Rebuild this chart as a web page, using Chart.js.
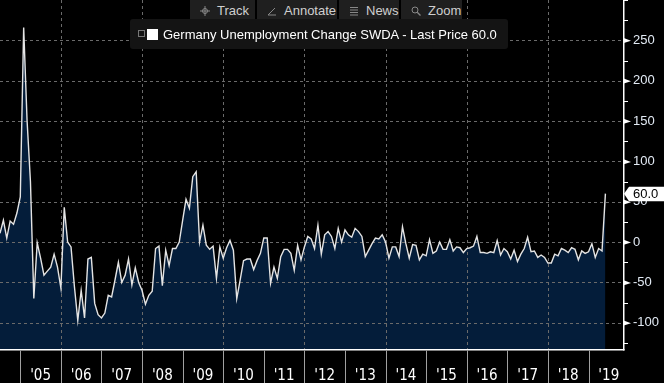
<!DOCTYPE html>
<html>
<head>
<meta charset="utf-8">
<script src="https://cdn.jsdelivr.net/npm/chart.js@4.4.1/dist/chart.umd.min.js"></script>
<style>
  html, body { margin: 0; padding: 0; background: #000; }
  #wrap { position: relative; width: 664px; height: 383px; background: #000; overflow: hidden; }
  #chart { position: absolute; left: 0; top: 0; }
  .toolbar { position: absolute; left: 190px; top: 0; height: 21px; display: flex; gap: 2px; background: #000;
    font: 13px "Liberation Sans", Arial, sans-serif; color: #cfcfcf; }
  .toolbar div { background: #1f1f1f; height: 21px; display: flex; align-items: center; padding: 0 0 0 10px; box-sizing: border-box; }
  .toolbar svg { margin-right: 7px; }
  .legend { position: absolute; left: 130px; top: 19px; width: 378px; height: 30px; background: #141414; border-radius: 3px;
    font: 13px "Liberation Sans", Arial, sans-serif; color: #fff; }
  .legend span { position: absolute; left: 33px; top: 8px; white-space: nowrap; }
  .legend i { position: absolute; left: 17px; top: 10px; width: 11px; height: 11px; background: #fff; }
  .legend b { position: absolute; left: 8px; top: 11px; width: 5px; height: 5px; border: 1px solid #777; }
</style>
</head>
<body>
<div id="wrap">
  <canvas id="chart" width="664" height="383"></canvas>
  <div class="toolbar">
    <div style="width:65px"><svg width="10" height="10" viewBox="0 0 10 10"><path d="M5 0V10M0 5H10" stroke="#888" stroke-width="1"/><circle cx="5" cy="5" r="2.5" fill="none" stroke="#888"/></svg>Track</div>
    <div style="width:80px"><svg width="10" height="10" viewBox="0 0 10 10"><path d="M1 9L8 2M1 9H9" stroke="#888" stroke-width="1"/></svg>Annotate</div>
    <div style="width:60px"><svg width="10" height="10" viewBox="0 0 10 10"><path d="M1 1.5H9M1 4H9M1 6.5H9M1 9H9" stroke="#888" stroke-width="1"/></svg>News</div>
    <div style="width:61px"><svg width="10" height="10" viewBox="0 0 10 10"><circle cx="4" cy="4" r="3" fill="none" stroke="#888"/><path d="M6.2 6.2L9.5 9.5" stroke="#888" stroke-width="1.3"/></svg>Zoom</div>
  </div>
  <div class="legend"><b></b><i></i><span>Germany Unemployment Change SWDA - Last Price 60.0</span></div>
</div>
<script>
// Germany unemployment change (SWDA), monthly, Jul 2004 .. Jun 2019, thousands
const firstYear = 2004;
const firstMonth = 7;
const changeValues = [
  11, 27, 5, 26, 22, 36,
  56, 266, 151, 75, -70, -1, -20, -41, -36, -31, -15, -31,
  -57, 43, 0, -6, -55, -97, -60, -94, -21, -19, -76, -90,
  -94, -88, -66, -68, -47, -25, -50, -41, -21, -53, -32, -50,
  -60, -77, -66, -61, -8, -5, -54, -10, -29, -8, -8, 0,
  27, 53, 42, 81, 87, 0, 21, -4, -9, -5, -45, -6,
  -20, -7, 2, -10, -70, -47, -23, -21, -21, -34, -23, -14,
  5, 5, -51, -31, -45, -18, -9, -9, -14, -35, -4, -22,
  -6, 7, 4, -8, 21, -15, 9, 13, 7, -8, 17, 0,
  15, 9, 6, 17, 13, 7, -18, -10, -2, 5, 4, 9,
  0, -20, -6, -6, -18, 19, -2, -20, -3, -4, -22, -15,
  -17, 3, -14, -11, 0, -9, -9, 3, -11, -6, -7, -13,
  -8, -7, -5, 7, -13, -13, -14, -12, -13, 2, -16, -8,
  -12, -21, -10, -24, -15, -8, 6, -12, -11, -19, -16, -19,
  -26, -26, -15, -17, -8, -10, -13, -7, -9, -22, -11, -14,
  -12, -2, -19, -8, -11, 60
];
const yearLabels = ["'05", "'06", "'07", "'08", "'09", "'10", "'11", "'12", "'13", "'14", "'15", "'16", "'17", "'18", "'19"];
const yMajorTicks = [-100, -50, 0, 50, 100, 150, 200, 250];
const yMinorTicks = [-125, -75, -25, 25, 75, 125, 175, 225, 275, 300];
const lastPrice = 60.0;

// months counted from Jan 2005 (x = 0)
const months = changeValues.map((_, i) => {
  const n = (firstYear * 12 + firstMonth - 1) + i;
  return Math.floor(n / 12) + '-' + String(n % 12 + 1).padStart(2, '0');
});
const monthIndex = months.map(m => (parseInt(m) - 2005) * 12 + parseInt(m.slice(5)) - 1);
const yearStarts = yearLabels.map((_, i) => i * 12);
const yearMids = yearLabels.map((_, i) => i * 12 + 6);

const points = changeValues.map((v, i) => ({ x: monthIndex[i], y: v }));

const NARROW = '"Liberation Sans Narrow", "DejaVu Sans Condensed", Arial, sans-serif';
const SANS = '"Liberation Sans", Arial, sans-serif';

const decorPlugin = {
  id: 'decor',
  beforeDatasetDraw(chart) {
    // dashed grid, drawn over the area fill but under the line
    const { ctx, chartArea: a, scales: { x, y } } = chart;
    ctx.save();
    ctx.strokeStyle = '#6a6a6a';
    ctx.lineWidth = 1;
    ctx.setLineDash([3, 3]);
    yMajorTicks.forEach(v => {
      const py = Math.round(y.getPixelForValue(v)) + 0.5;
      ctx.beginPath(); ctx.moveTo(a.left, py); ctx.lineTo(a.right, py); ctx.stroke();
    });
    yearStarts.forEach((v, i) => {
      if (i % 2 === 0) return;
      const px = Math.round(x.getPixelForValue(v)) + 0.5;
      ctx.beginPath(); ctx.moveTo(px, a.top); ctx.lineTo(px, a.bottom); ctx.stroke();
    });
    ctx.restore();
  },
  afterDraw(chart) {
    const { ctx, chartArea: a, scales: { x, y } } = chart;
    ctx.save();
    // axis lines
    ctx.fillStyle = '#fff';
    ctx.fillRect(a.right, 0, 1.5, a.bottom + 1.5);
    ctx.fillRect(0, a.bottom, a.right + 1.5, 1.5);
    // year separators under the plot
    ctx.fillStyle = '#a0a0a0';
    yearStarts.forEach(v => {
      const px = Math.round(x.getPixelForValue(v));
      ctx.fillRect(px, a.bottom + 1.5, 1, chart.height - a.bottom);
    });
    // y-axis tick marks
    ctx.fillStyle = '#fff';
    yMajorTicks.forEach(v => {
      const py = y.getPixelForValue(v);
      ctx.beginPath();
      ctx.moveTo(a.right, py - 2.5); ctx.lineTo(a.right + 8, py + 0.5); ctx.lineTo(a.right, py + 3);
      ctx.closePath(); ctx.fill();
    });
    yMinorTicks.forEach(v => {
      const py = Math.round(y.getPixelForValue(v));
      ctx.fillRect(a.right, py, 5, 1);
    });
    // last price tag
    const py = y.getPixelForValue(lastPrice);
    ctx.fillStyle = '#fff';
    ctx.beginPath();
    ctx.moveTo(a.right + 1, py);
    ctx.lineTo(a.right + 6, py - 7);
    ctx.lineTo(chart.width, py - 7);
    ctx.lineTo(chart.width, py + 7.5);
    ctx.lineTo(a.right + 6, py + 7.5);
    ctx.closePath(); ctx.fill();
    ctx.fillStyle = '#000';
    ctx.font = '13px ' + SANS;
    ctx.textBaseline = 'middle';
    ctx.fillText(lastPrice.toFixed(1), a.right + 10, py + 1);
    ctx.restore();
  }
};

new Chart(document.getElementById('chart'), {
  type: 'line',
  data: {
    datasets: [{
      label: 'Germany Unemployment Change SWDA',
      data: points,
      borderColor: '#e4e4e4',
      borderWidth: 1.4,
      backgroundColor: '#041d3a',
      fill: 'start',
      pointRadius: 0,
      tension: 0
    }]
  },
  options: {
    responsive: false,
    animation: false,
    devicePixelRatio: 1,
    layout: { padding: 0 },
    plugins: { legend: { display: false }, tooltip: { enabled: false } },
    scales: {
      x: {
        type: 'linear',
        min: -6,
        max: 178.2,
        grid: { display: false, drawTicks: false },
        border: { display: false },
        afterBuildTicks: s => { s.ticks = yearMids.map(v => ({ value: v })); },
        afterFit: s => { s.height = 34; s.paddingLeft = 0; s.paddingRight = 0; },
        ticks: {
          autoSkip: false, maxRotation: 0, minRotation: 0,
          color: '#fff', padding: 18,
          font: { family: NARROW, size: 15 },
          callback: (v, i) => yearLabels[i]
        }
      },
      y: {
        position: 'right',
        min: -132.5,
        max: 300,
        grid: { display: false, drawTicks: false },
        border: { display: false },
        afterBuildTicks: s => { s.ticks = yMajorTicks.map(v => ({ value: v })); },
        afterFit: s => { s.width = 41; s.paddingTop = 0; s.paddingBottom = 0; },
        ticks: {
          color: '#e2eaf4', padding: 10,
          font: { family: SANS, size: 13 },
          callback: v => String(v)
        }
      }
    }
  },
  plugins: [decorPlugin]
});
</script>
</body>
</html>
